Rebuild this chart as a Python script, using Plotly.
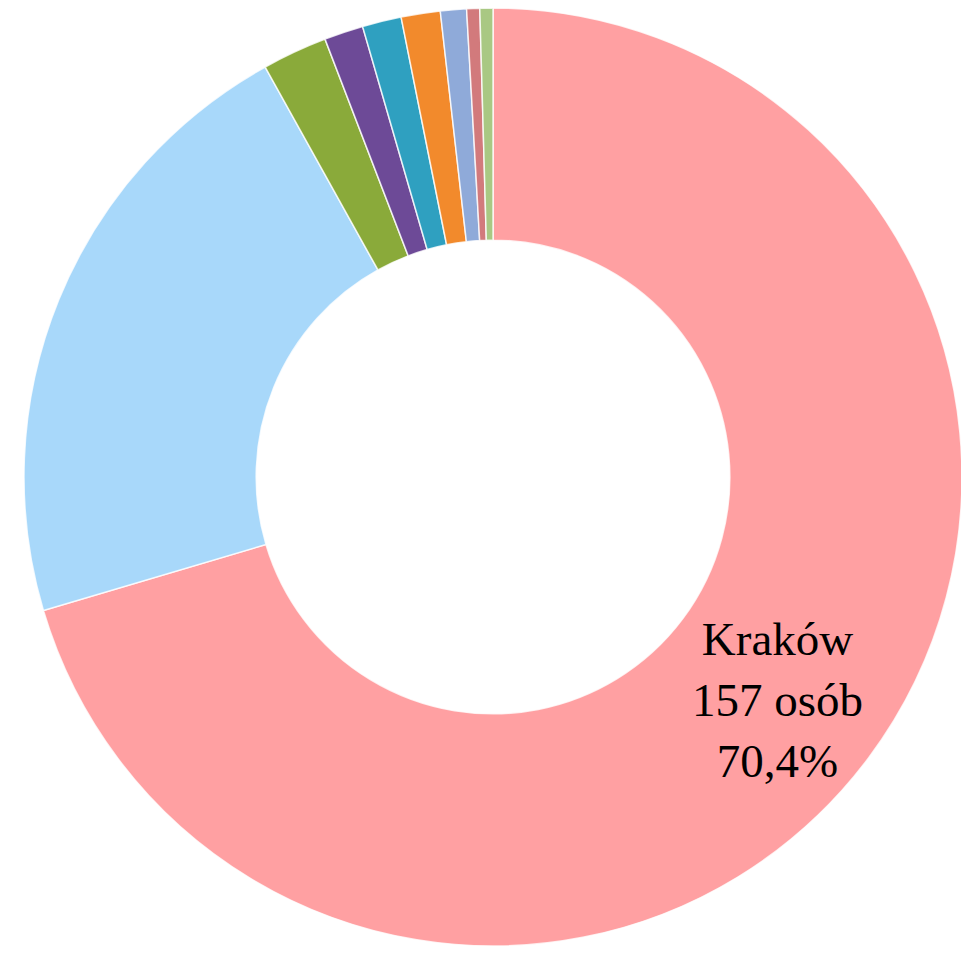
import plotly.graph_objects as go

labels = ["Kraków", "Pozostałe miejscowości", "Kategoria 3", "Kategoria 4", "Kategoria 5",
          "Kategoria 6", "Kategoria 7", "Kategoria 8", "Kategoria 9"]
values = [157, 48, 5, 3, 3, 3, 2, 1, 1]
label_text = "Kraków<br>157 osób<br>70,4%"
colors = ["#FFA0A2", "#A8D8FA", "#8AAA3A", "#6D4A97", "#2FA0C0", "#F28A2C", "#8FAAD9", "#D27A7C", "#A9C883"]

W, H = 961, 948  # page body has an 8px margin

fig = go.Figure(go.Pie(
    labels=labels,
    values=values,
    textinfo="none",
    marker=dict(colors=colors, line=dict(color="rgba(255,255,255,0.8)", width=1.5)),
    hole=0.505,
    sort=False,
    direction="clockwise",
    rotation=0,
    showlegend=False,
    domain=dict(x=[16 / W, 954 / W], y=[10 / H, 1.0]),
))
fig.add_annotation(
    x=769 / W, y=1 - 692 / H, xref="paper", yref="paper",
    text=label_text, showarrow=False, align="center",
    xanchor="center", yanchor="middle",
    font=dict(family="Liberation Serif, Times New Roman, serif", size=47, color="black"),
)
fig.update_layout(
    width=W, height=H,
    margin=dict(l=0, r=0, t=0, b=0),
    paper_bgcolor="white",
    plot_bgcolor="white",
)
fig.write_html("out.html")
